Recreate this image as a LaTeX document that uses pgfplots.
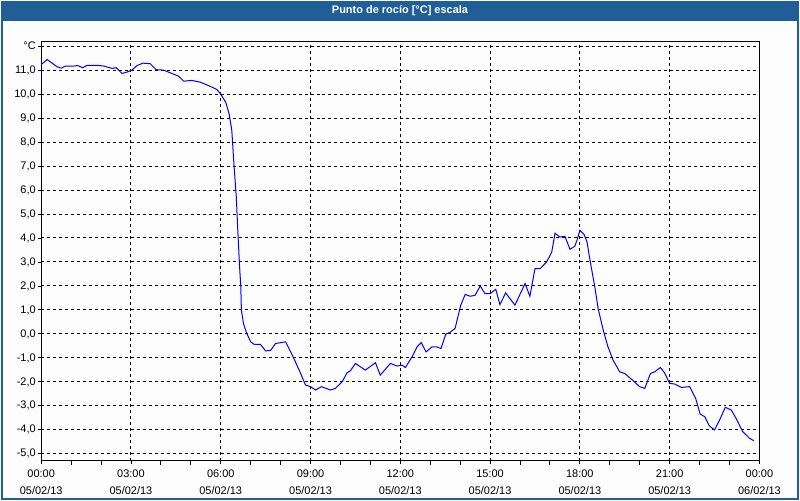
\documentclass[border=0pt]{standalone}
\usepackage{pgfplots}
\pgfplotsset{compat=1.18}
\usepackage{fontspec}
\setmainfont{Liberation Sans}
\definecolor{barblue}{HTML}{1F5E97}
\definecolor{bgpanel}{HTML}{FCFDFC}

\pgfplotstableread{
h v
0 11.23
0.2 11.44
0.53 11.14
0.67 11.08
0.81 11.17
1.09 11.17
1.22 11.19
1.39 11.10
1.53 11.20
1.87 11.20
2.09 11.17
2.37 11.07
2.51 11.10
2.70 10.86
2.87 10.92
3.03 11.00
3.20 11.19
3.40 11.29
3.64 11.27
3.84 11.02
4.09 11.00
4.31 10.89
4.59 10.75
4.76 10.54
5.03 10.57
5.31 10.50
5.64 10.33
5.87 10.19
6.00 10.00
6.17 9.65
6.28 9.17
6.37 8.48
6.44 7.09
6.52 5.70
6.58 4.04
6.63 2.79
6.67 1.96
6.69 0.99
6.76 0.43
6.87 0.02
7.00 -0.33
7.11 -0.43
7.33 -0.44
7.50 -0.71
7.67 -0.68
7.83 -0.40
8.17 -0.33
8.39 -0.88
8.67 -1.65
8.83 -2.13
9.00 -2.20
9.17 -2.34
9.36 -2.20
9.67 -2.34
9.83 -2.27
10.06 -1.99
10.22 -1.62
10.33 -1.54
10.50 -1.23
10.83 -1.51
11.17 -1.20
11.33 -1.72
11.67 -1.23
11.89 -1.34
12.06 -1.30
12.17 -1.40
12.39 -0.96
12.56 -0.54
12.70 -0.36
12.86 -0.75
13.06 -0.54
13.22 -0.54
13.36 -0.61
13.52 -0.01
13.67 0.07
13.83 0.23
14.02 1.20
14.17 1.65
14.33 1.57
14.50 1.61
14.67 2.00
14.83 1.68
15.00 1.68
15.19 1.86
15.33 1.22
15.52 1.71
15.83 1.20
16.17 2.10
16.33 1.57
16.50 2.72
16.67 2.72
16.89 3.00
17.06 3.41
17.17 4.20
17.33 4.04
17.50 4.07
17.67 3.53
17.83 3.65
17.91 3.93
18.00 4.32
18.14 4.15
18.24 3.83
18.33 3.14
18.50 1.96
18.61 1.06
18.78 0.16
18.94 -0.54
19.11 -1.09
19.33 -1.58
19.50 -1.65
19.78 -1.95
20.00 -2.20
20.17 -2.27
20.36 -1.65
20.50 -1.58
20.69 -1.40
20.83 -1.62
21.00 -2.06
21.17 -2.09
21.39 -2.23
21.67 -2.20
21.87 -2.69
22.02 -3.34
22.17 -3.45
22.33 -3.84
22.50 -4.00
22.67 -3.59
22.86 -3.06
23.06 -3.17
23.22 -3.52
23.44 -4.07
23.67 -4.35
23.81 -4.45
}\dewpoint

\begin{document}
\begin{tikzpicture}
% panel, frame and title bar
\fill[bgpanel] (0pt,0pt) rectangle (800pt,500pt);
\fill[barblue] (0pt,480pt) rectangle (800pt,500pt);
\draw[barblue,line width=2pt] (1pt,0pt) -- (1pt,500pt) (799pt,0pt) -- (799pt,500pt) (0pt,1pt) -- (800pt,1pt);
\node[text=white,font=\fontsize{11}{12}\selectfont\bfseries] at (400pt,490pt) {Punto de rocío [°C] escala};

\begin{axis}[
    at={(40.3pt,39.3pt)}, anchor=south west,
    width=720pt, height=420pt, scale only axis,
    xmin=0, xmax=24, ymin=-5.28, ymax=12.19,
    axis line style={black,line width=1pt},
    xtick={0,3,...,24},
    xticklabels={{00:00\\05/02/13},{03:00\\05/02/13},{06:00\\05/02/13},{09:00\\05/02/13},{12:00\\05/02/13},{15:00\\05/02/13},{18:00\\05/02/13},{21:00\\05/02/13},{00:00\\06/02/13}},
    minor x tick num=2,
    ytick={-5,...,12},
    yticklabels={{-5,0},{-4,0},{-3,0},{-2,0},{-1,0},{0,0},{1,0},{2,0},{3,0},{4,0},{5,0},{6,0},{7,0},{8,0},{9,0},{10,0},{11,0},°C},
    xtick pos=bottom, ytick pos=left,
    tick align=outside,
    major tick length=3pt, minor tick length=4pt,
    every tick/.style={black,line width=0.9pt},
    grid=major,
    major grid style={black,line width=1pt,dash pattern=on 3pt off 3pt},
    xticklabel style={align=center,font=\fontsize{11}{17}\selectfont,yshift=-3pt},
    yticklabel style={font=\fontsize{11}{12}\selectfont,xshift=1pt},
]
\addplot[blue,line width=1pt] table[x=h,y=v] {\dewpoint};
\end{axis}
\end{tikzpicture}
\end{document}
